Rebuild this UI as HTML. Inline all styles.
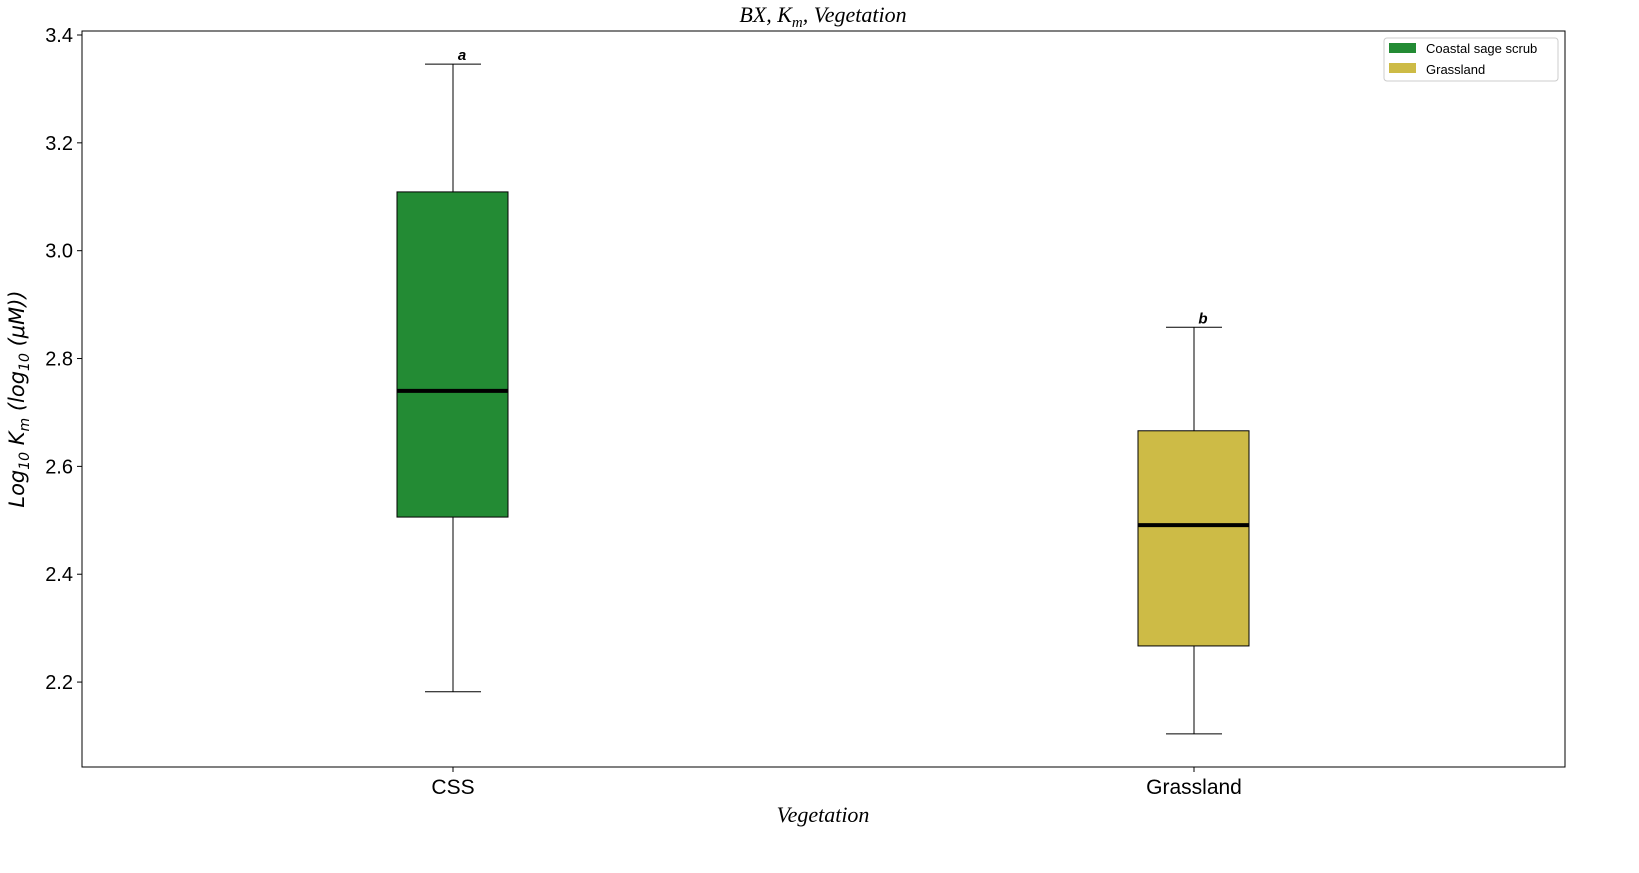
<!DOCTYPE html>
<html><head><meta charset="utf-8"><style>
body{margin:0;background:#fff;}
svg text{font-family:"Liberation Sans",sans-serif;}
.serif{font-family:"Liberation Serif",serif;font-style:italic;}
.sansit{font-family:"DejaVu Sans","Liberation Sans",sans-serif;font-style:italic;}
</style></head><body>
<svg id="chart" width="1639" height="868" xmlns="http://www.w3.org/2000/svg">
<text class="serif" x="823" y="22" font-size="22" text-anchor="middle">BX, K<tspan font-size="15" dy="5">m</tspan><tspan dy="-5">, Vegetation</tspan></text>
<g id="plot"></g>
<text class="serif" x="823" y="822" font-size="22" text-anchor="middle">Vegetation</text>
<text class="sansit" transform="translate(24,399) rotate(-90)" font-size="21" text-anchor="middle">Log<tspan font-size="14" dy="5">10</tspan><tspan dy="-5"> K</tspan><tspan font-size="14" dy="5">m</tspan><tspan dy="-5"> (log</tspan><tspan font-size="14" dy="5">10</tspan><tspan dy="-5"> (μM))</tspan></text>
<g>
<rect x="1384" y="38" width="174" height="43" fill="#fff" stroke="#ccc" rx="3"/>
<rect x="1389" y="43" width="27" height="10" fill="#238b34"/>
<text x="1426" y="53" font-size="13">Coastal sage scrub</text>
<rect x="1389" y="63" width="27" height="10" fill="#cdbb46"/>
<text x="1426" y="74" font-size="13">Grassland</text>
</g>
</svg>
<script>
const categories=["CSS","Grassland"];
const whiskerLow=[2.182,2.104];
const q1=[2.506,2.267];
const median=[2.740,2.491];
const q3=[3.109,2.666];
const whiskerHigh=[3.346,2.858];
const letters=["a","b"];
const colors=["#238b34","#cdbb46"];
const yTicks=[2.2,2.4,2.6,2.8,3.0,3.2,3.4];
const L=82,R=1565,T=31,B=767,yMin=2.0425,yMax=3.4074;
const y=v=>B-(v-yMin)/(yMax-yMin)*(B-T);
const x=i=>453+i*741;
const ns="http://www.w3.org/2000/svg";
const g=document.getElementById("plot");
function mk(tag,attrs,parent){const e=document.createElementNS(ns,tag);for(const k in attrs)e.setAttribute(k,attrs[k]);(parent||g).appendChild(e);return e;}
yTicks.forEach(t=>{
 const l=mk("line",{x1:L-5,x2:L,y1:y(t),y2:y(t),stroke:"#000"});
 
 
 const tx=mk("text",{x:L-9,y:y(t)+7,"font-size":20,"text-anchor":"end"});tx.textContent=t.toFixed(1);
 
 
});
categories.forEach((c,i)=>{
 const cx=x(i);
 const grp=mk("g",{});
 
 
 mk("line",{x1:cx,x2:cx,y1:y(whiskerHigh[i]),y2:y(q3[i]),stroke:"#000"},grp);
 mk("line",{x1:cx,x2:cx,y1:y(q1[i]),y2:y(whiskerLow[i]),stroke:"#000"},grp);
 mk("line",{x1:cx-28,x2:cx+28,y1:y(whiskerHigh[i]),y2:y(whiskerHigh[i]),stroke:"#000"},grp);
 mk("line",{x1:cx-28,x2:cx+28,y1:y(whiskerLow[i]),y2:y(whiskerLow[i]),stroke:"#000"},grp);
 mk("rect",{x:cx-56,y:y(q3[i]),width:111,height:y(q1[i])-y(q3[i]),fill:colors[i],stroke:"#000"},grp);
 mk("line",{x1:cx-56,x2:cx+55,y1:y(median[i]),y2:y(median[i]),stroke:"#000","stroke-width":4},grp);
 const lt=mk("text",{x:cx+9,y:y(whiskerHigh[i])-4,"font-size":15,"font-weight":"bold","font-style":"italic","text-anchor":"middle"});lt.textContent=letters[i];
 
 
 mk("line",{x1:cx,x2:cx,y1:B,y2:B+5,stroke:"#000"});
 const xl=mk("text",{x:cx,y:B+27,"font-size":21,"text-anchor":"middle"});xl.textContent=c;
 
 
});
const fr=mk("rect",{x:L,y:T,width:R-L,height:B-T,fill:"none",stroke:"#000"});


</script>
</body></html>
